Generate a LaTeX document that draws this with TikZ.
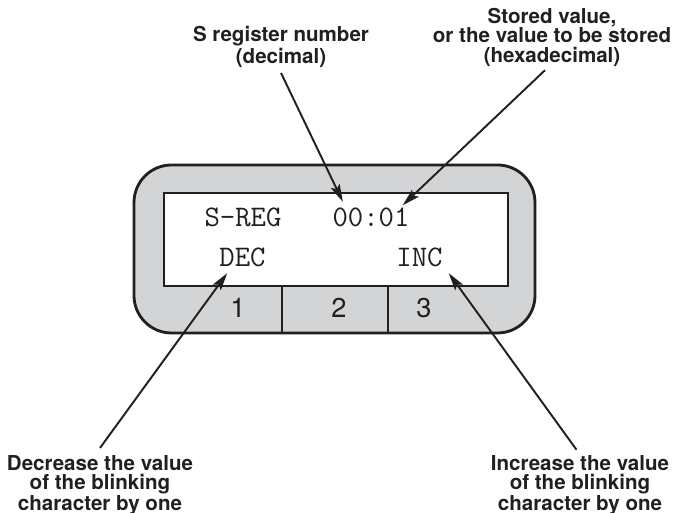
\documentclass[tikz,border=0pt]{standalone}
\usepackage{fontspec}
\setmainfont{TeX Gyre Heros}
\usepackage{tikz}
\usetikzlibrary{arrows.meta}
\definecolor{panelgray}{RGB}{211,212,214}
\definecolor{inkblack}{RGB}{35,31,32}

\begin{document}
\begin{tikzpicture}[
  lcd/.style={font=\ttfamily\fontsize{17}{20}\selectfont, text=inkblack},
  keylabel/.style={font=\fontsize{15.5}{18}\selectfont, text=inkblack},
  callout/.style={font=\bfseries\fontsize{11.7}{11}\selectfont, align=center,
    inner sep=0pt, text=inkblack},
  pointer/.style={-{Stealth[length=10pt,width=5.5pt,inset=2pt]},
    line width=1.1pt, draw=inkblack}]
  \useasboundingbox (0,0) rectangle (13.48,10.26);
  \filldraw[fill=panelgray, draw=inkblack, line width=1.6pt, rounded corners=0.75cm]
    (2.68,3.60) rectangle (10.70,6.96);
  \filldraw[fill=white, draw=inkblack, line width=1.5pt]
    (3.28,4.54) rectangle (10.16,6.40);
  \foreach \x in {5.64,7.76}
    \draw[inkblack, line width=0.75pt] (\x,4.54) -- (\x,3.60);
  \foreach \n/\x in {1/4.76,2/6.78,3/8.48}
    \node[keylabel] (key\n) at (\x,4.10) {\n};

  \node[lcd] (sreg) at (4.86,5.91) {S-REG};
  \node[lcd] (val) at (7.42,5.91) {00:01};
  \node[lcd] (dec) at (4.85,5.11) {DEC};
  \node[lcd] (inc) at (8.39,5.11) {INC};

  \node[callout, anchor=north] (reglbl) at (5.62,9.74)
    {S register number\\(decimal)};
  \node[callout, anchor=north] (storelbl) at (11.04,10.10)
    {Stored value,\\or the value to be stored\\(hexadecimal)};
  \node[callout, anchor=north] (declbl) at (2.00,1.16)
    {Decrease the value\\of the blinking\\character by one};
  \node[callout, anchor=north] (inclbl) at (11.60,1.16)
    {Increase the value\\of the blinking\\character by one};

  \draw[pointer] ([yshift=-3pt]reglbl.south) -- ([xshift=0.33cm]val.north west);
  \draw[pointer] ([xshift=-4pt,yshift=-2pt]storelbl.south) -- ([xshift=-0.26cm,yshift=-2pt]val.north east);
  \draw[pointer] ([yshift=4pt]declbl.north) -- ([xshift=0.28cm]dec.south west);
  \draw[pointer] ([xshift=-2pt,yshift=3pt]inclbl.north) -- (inc.south east);
\end{tikzpicture}
\end{document}
